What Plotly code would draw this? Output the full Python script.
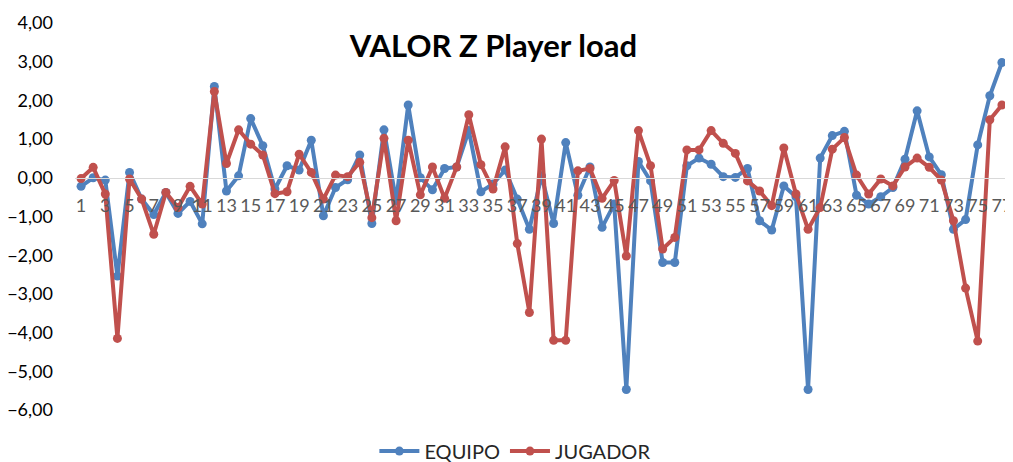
import plotly.graph_objects as go

x_vals = list(range(1, 78))
equipo = [-0.22, 0.00, -0.06, -2.54, 0.14, -0.55, -0.95, -0.38, -0.92, -0.61,
          -1.19, 2.36, -0.34, 0.05, 1.53, 0.83, -0.29, 0.31, 0.20, 0.97,
          -0.98, -0.25, -0.05, 0.59, -1.18, 1.24, -0.60, 1.88, 0.00, -0.31,
          0.24, 0.28, 1.22, -0.36, -0.16, 0.20, -0.55, -1.33, 0.05, -1.18,
          0.91, -0.45, 0.28, -1.28, -0.68, -5.47, 0.42, -0.08, -2.19, -2.19,
          0.31, 0.51, 0.35, 0.03, 0.01, 0.24, -1.11, -1.35, -0.21, -0.49,
          -5.47, 0.51, 1.09, 1.20, -0.45, -0.68, -0.49, -0.25, 0.48, 1.73,
          0.54, 0.08, -1.33, -1.08, 0.85, 2.12, 2.98]
jugador = [-0.02, 0.27, -0.42, -4.15, -0.03, -0.55, -1.46, -0.38, -0.77, -0.22,
           -0.68, 2.23, 0.37, 1.24, 0.87, 0.59, -0.41, -0.36, 0.61, 0.14,
           -0.55, 0.07, 0.03, 0.40, -1.03, 1.02, -1.11, 0.97, -0.44, 0.28,
           -0.53, 0.28, 1.63, 0.34, -0.29, 0.80, -1.70, -3.48, 1.00, -4.20,
           -4.20, 0.18, 0.24, -0.53, -0.07, -2.02, 1.22, 0.31, -1.84, -1.54,
           0.72, 0.72, 1.22, 0.89, 0.63, -0.08, -0.34, -0.72, 0.77, -0.42,
           -1.33, -0.77, 0.74, 1.04, 0.07, -0.42, -0.03, -0.21, 0.28, 0.51,
           0.27, -0.06, -1.11, -2.85, -4.22, 1.50, 1.88]
x_tick_vals = list(range(1, 78, 2))
y_tick_vals = list(range(-6, 5))

BLUE = "#4F81BD"
RED = "#C0504D"
FONT = "Lato, 'Open Sans', sans-serif"

fig = go.Figure()
fig.add_trace(go.Scatter(x=x_vals, y=equipo, name="EQUIPO", mode="lines+markers",
                         line=dict(color=BLUE, width=4),
                         marker=dict(color=BLUE, size=9)))
fig.add_trace(go.Scatter(x=x_vals, y=jugador, name="JUGADOR", mode="lines+markers",
                         line=dict(color=RED, width=4),
                         marker=dict(color=RED, size=9)))

fig.update_layout(
    width=1005, height=454,
    margin=dict(l=67, r=5, t=15, b=52),
    paper_bgcolor="white", plot_bgcolor="white",
    separators=",.",
    font=dict(family=FONT),
    title=dict(text="<b>VALOR Z Player load</b>", x=0.483, xanchor="center",
               xref="container", yref="container",
               y=0.916, yanchor="middle",
               font=dict(size=31, color="#000000", family=FONT)),
    showlegend=True,
    legend=dict(orientation="h", x=0.472, xanchor="center", xref="paper",
                yref="container", y=0.024, yanchor="middle",
                font=dict(size=20, color="#262626", family=FONT),
                itemwidth=40),
    xaxis=dict(range=[0.5, 77.5], tickmode="array", tickvals=x_tick_vals,
               ticktext=[str(v) for v in x_tick_vals], automargin=False,
               showgrid=False, zeroline=False, showline=True, linecolor="#D9D9D9",
               linewidth=1, ticks="", anchor="free", position=0.6,
               tickfont=dict(size=18, color="#595959", family=FONT),
               ticklabelstandoff=12),
    yaxis=dict(range=[-6, 4], tickmode="array", tickvals=y_tick_vals, automargin=False,
               tickformat=".2f", showgrid=False, zeroline=False, showline=False,
               ticks="", ticklabelstandoff=21,
               tickfont=dict(size=18, color="#000000", family=FONT)),
)

fig.write_html("out.html")
